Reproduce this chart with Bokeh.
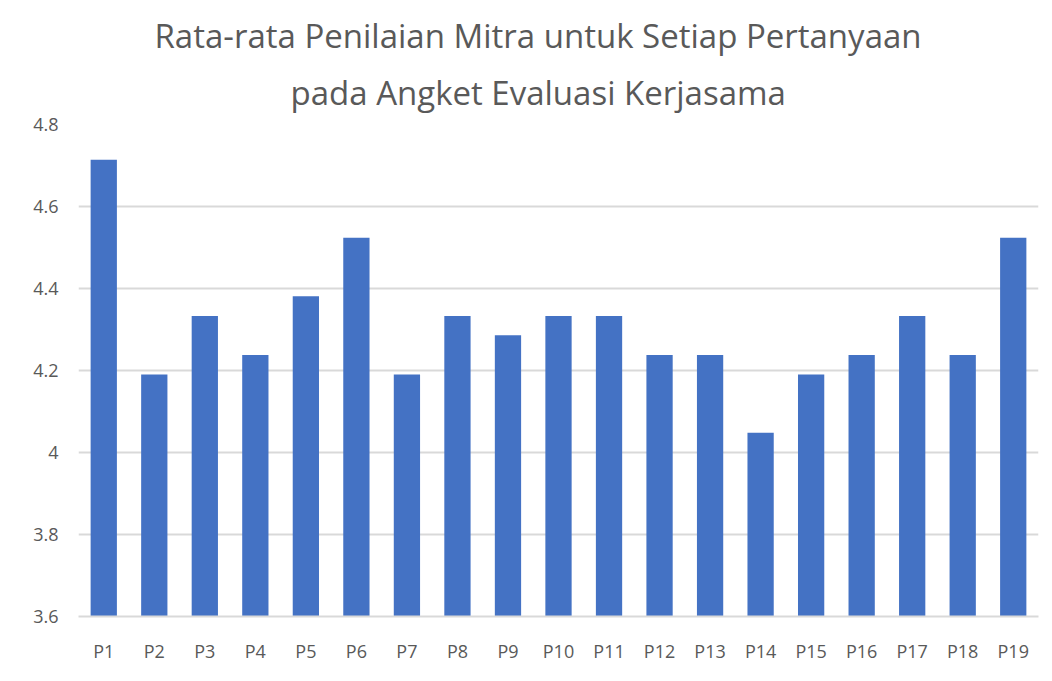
from bokeh.plotting import figure
from bokeh.models import FactorRange, Range1d, FixedTicker, Title, ColumnDataSource
from bokeh.embed import file_html
from bokeh.resources import INLINE

categories = ["P1", "P2", "P3", "P4", "P5", "P6", "P7", "P8", "P9", "P10",
              "P11", "P12", "P13", "P14", "P15", "P16", "P17", "P18", "P19"]
values = [4.714, 4.190, 4.333, 4.238, 4.381, 4.524, 4.190, 4.333, 4.286, 4.333,
          4.333, 4.238, 4.238, 4.048, 4.190, 4.238, 4.333, 4.238, 4.524]
y_ticks = [3.6, 3.8, 4.0, 4.2, 4.4, 4.6, 4.8]
y_tick_labels = ["3.6", "3.8", "4", "4.2", "4.4", "4.6", "4.8"]
title_lines = ["Rata-rata Penilaian Mitra untuk Setiap Pertanyaan",
               "pada Angket Evaluasi Kerjasama"]

src = ColumnDataSource(data=dict(cat=categories, val=values))

p = figure(width=1040, height=665, output_backend="svg", toolbar_location=None,
           x_range=FactorRange(*categories, range_padding=0),
           y_range=Range1d(3.6, 4.8))
p.min_border_left = 78
p.min_border_right = 2
p.min_border_bottom = 47
p.min_border_top = 124
p.outline_line_color = None
p.background_fill_color = "white"
p.border_fill_color = "white"

p.vbar(x="cat", top="val", bottom=3.6, width=0.52, source=src,
       fill_color="#4472C4", line_color=None)

t2 = Title(text=title_lines[1], align="left", text_font="Open Sans",
           text_font_size="33px", text_font_style="normal", text_color="#595959",
           standoff=20, offset=212)
t1 = Title(text=title_lines[0], align="left", text_font="Open Sans",
           text_font_size="33px", text_font_style="normal", text_color="#595959",
           standoff=0, offset=76)
p.title = None
p.add_layout(t2, "above")
p.add_layout(t1, "above")

p.yaxis.ticker = FixedTicker(ticks=y_ticks)
p.yaxis.major_label_overrides = {t: l for t, l in zip(y_ticks, y_tick_labels)}
p.yaxis.axis_line_color = None
p.yaxis.major_tick_line_color = None
p.yaxis.minor_tick_line_color = None
p.yaxis.major_label_text_font = "Open Sans"
p.yaxis.major_label_text_font_size = "18px"
p.yaxis.major_label_text_color = "#595959"
p.yaxis.major_label_standoff = 14

p.xaxis.axis_line_color = "#d9d9d9"
p.xaxis.axis_line_width = 2
p.xaxis.major_tick_line_color = None
p.xaxis.minor_tick_line_color = None
p.xaxis.major_label_text_font = "Open Sans"
p.xaxis.major_label_text_font_size = "18px"
p.xaxis.major_label_text_color = "#595959"
p.xaxis.major_label_standoff = 16

p.xgrid.grid_line_color = None
p.ygrid.grid_line_color = "#d9d9d9"
p.ygrid.grid_line_width = 2
p.ygrid.ticker = FixedTicker(ticks=y_ticks)

open("out.html", "w").write(file_html(p, INLINE))
